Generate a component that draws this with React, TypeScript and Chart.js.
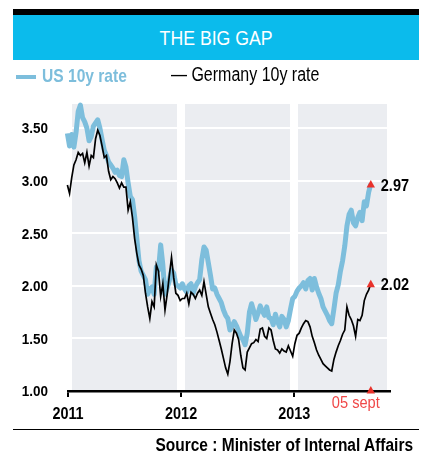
import React, { useEffect, useRef } from "react";
import { Chart, registerables } from "chart.js";

Chart.register(...registerables);

// ---- data (weekly closes, first week 2010-12-30, last 2013-09-05) ----
const FIRST_WEEK = "2010-12-30";
const usRate = [
  3.45, 3.33, 3.44, 3.32, 3.46, 3.66, 3.72, 3.6, 3.56, 3.5,
  3.38, 3.42, 3.52, 3.55, 3.58, 3.5, 3.39, 3.29, 3.24, 3.18,
  3.15, 3.12, 3.08, 3.1, 3.05, 3.04, 3.2, 3.13, 2.98, 2.85,
  2.82, 2.66, 2.45, 2.24, 2.14, 2.1, 2.06, 1.92, 1.97, 1.99,
  1.92, 2.18, 2.15, 2.39, 2.2, 1.92, 1.98, 2.05, 2.15, 2.12,
  2.01, 2.0, 1.98, 2.02, 1.97, 1.94, 2.0, 2.02, 1.93, 1.99,
  2.03, 2.06, 2.25, 2.37, 2.34, 2.22, 2.1, 1.97, 1.98, 1.92,
  1.88, 1.84, 1.77, 1.72, 1.69, 1.58, 1.62, 1.66, 1.62, 1.57,
  1.52, 1.49, 1.44, 1.55, 1.75, 1.83, 1.76, 1.68, 1.74, 1.81,
  1.76, 1.72, 1.8, 1.7, 1.69, 1.63, 1.73, 1.66, 1.61, 1.71,
  1.68, 1.61, 1.67, 1.78, 1.88, 1.9, 1.95, 1.98, 2.0, 2.03,
  1.97, 2.05, 2.07, 1.96, 2.07, 1.99, 1.93, 1.88, 1.8, 1.76,
  1.72, 1.67, 1.64, 1.78, 1.93, 2.01, 2.14, 2.24, 2.38, 2.57,
  2.68, 2.72, 2.6, 2.57, 2.65, 2.7, 2.62, 2.8, 2.76, 2.89,
  2.97,
];
const germanyRate = [
  2.96, 2.88, 3.03, 3.15, 3.2, 3.27, 3.24, 3.26, 3.17, 3.27,
  3.14, 3.24, 3.22, 3.4, 3.48, 3.43, 3.33, 3.22, 3.24, 3.09,
  3.01, 3.04, 3.02, 2.98, 2.93, 2.98, 2.94, 2.94, 2.72, 2.8,
  2.65, 2.45, 2.31, 2.2, 2.16, 2.1, 1.93, 1.8, 1.69, 1.85,
  1.8, 2.2, 2.14, 1.9, 2.02, 1.77, 1.92, 2.1, 2.27, 2.08,
  1.93, 1.91, 1.86, 1.88, 1.88, 1.93, 1.83, 1.94, 1.92, 1.88,
  1.93, 1.96, 1.91, 2.04, 1.92, 1.8, 1.74, 1.68, 1.63, 1.56,
  1.48, 1.4, 1.31, 1.22, 1.16, 1.28, 1.45, 1.58, 1.55, 1.49,
  1.34, 1.22, 1.2, 1.37, 1.41, 1.45, 1.46, 1.49, 1.47, 1.59,
  1.6, 1.52, 1.5, 1.6, 1.58, 1.48, 1.4, 1.39, 1.36, 1.4,
  1.38, 1.37, 1.43, 1.38, 1.33, 1.45, 1.53, 1.55, 1.6, 1.64,
  1.67, 1.66, 1.61, 1.52, 1.46, 1.39, 1.34, 1.3, 1.26, 1.24,
  1.22, 1.2, 1.19, 1.3, 1.37, 1.43, 1.48, 1.54, 1.58, 1.8,
  1.72, 1.68, 1.62, 1.52, 1.68, 1.67, 1.72, 1.86, 1.92, 1.96,
  2.02,
];
const yTicks = [1, 1.5, 2, 2.5, 3, 3.5];
const xTicks = [2011, 2012, 2013];
const Y_MIN = 1;
const Y_MAX = 3.73;
const X_MIN = 2011;
const X_MAX = 2013.82;
const LAST_DATE_LABEL = "05 sept";
const TITLE = "THE BIG GAP";
const SERIES_NAMES = ["US 10y rate", "Germany 10y rate"];
const SOURCE = "Source : Minister of Internal Affairs";

// ---- styles ----
const FONT = "'Liberation Sans', Arial, sans-serif";
const US_COLOR = "#7dbedc";
const DE_COLOR = "#000000";
const BAND_COLOR = "#0bbbec";
const PANEL_COLOR = "#ebedf1";
const RED = "#e8322b";
const RED_TEXT = "#f04848";

function yearFrac(d: Date): number {
  const y = d.getUTCFullYear();
  const s = Date.UTC(y, 0, 1);
  const e = Date.UTC(y + 1, 0, 1);
  return y + (d.getTime() - s) / (e - s);
}

const weekX = usRate.map((_, i) => {
  const d = new Date(FIRST_WEEK + "T00:00:00Z");
  d.setUTCDate(d.getUTCDate() + 7 * i);
  return yearFrac(d);
});

// condensed text helper (no narrow font installed: squeeze horizontally)
function narrowText(
  ctx: CanvasRenderingContext2D,
  text: string,
  x: number,
  y: number,
  font: string,
  color: string,
  align: CanvasTextAlign,
  sx: number
) {
  ctx.save();
  ctx.font = font;
  ctx.fillStyle = color;
  ctx.textAlign = align;
  ctx.textBaseline = "alphabetic";
  ctx.translate(x, y);
  ctx.scale(sx, 1);
  ctx.fillText(text, 0, 0);
  ctx.restore();
}

const panelPlugin = {
  id: "panel",
  beforeDraw(chart: any) {
    const { ctx, chartArea: a } = chart;
    ctx.save();
    ctx.fillStyle = PANEL_COLOR;
    ctx.fillRect(a.left, a.top, a.right - a.left, a.bottom - a.top);
    ctx.restore();
  },
};

const axisLabelPlugin = {
  id: "axisLabels",
  afterDraw(chart: any) {
    const { ctx, chartArea: a } = chart;
    const xs = chart.scales.x;
    const ys = chart.scales.y;
    yTicks.forEach((v) => {
      const py = ys.getPixelForValue(v);
      narrowText(ctx, v.toFixed(2), a.left - 20, py + 5.3, `bold 15.5px ${FONT}`, "#000", "right", 0.87);
    });
    xTicks.forEach((v) => {
      const px = xs.getPixelForValue(v);
      narrowText(ctx, String(v), px, a.bottom + 28.3, `bold 16px ${FONT}`, "#000", "center", 0.9);
    });
  },
};

function tri(ctx: CanvasRenderingContext2D, x: number, y: number) {
  ctx.beginPath();
  ctx.moveTo(x, y - 4);
  ctx.lineTo(x - 4.2, y + 3.5);
  ctx.lineTo(x + 4.2, y + 3.5);
  ctx.closePath();
  ctx.fill();
}

const endPlugin = {
  id: "endMarks",
  afterDatasetsDraw(chart: any) {
    const { ctx, chartArea: a } = chart;
    const xs = chart.scales.x;
    const ys = chart.scales.y;
    const lastX = weekX[weekX.length - 1];
    const px = xs.getPixelForValue(lastX);
    ctx.save();
    [usRate, germanyRate].forEach((arr) => {
      const v = arr[arr.length - 1];
      const py = ys.getPixelForValue(v);
      ctx.fillStyle = RED;
      tri(ctx, px, py);
      narrowText(ctx, v.toFixed(2), px + 10, py + 6.7, `bold 17px ${FONT}`, "#000", "left", 0.855);
    });
    ctx.fillStyle = RED;
    tri(ctx, px, a.bottom - 1);
    narrowText(ctx, LAST_DATE_LABEL, px + 9, a.bottom + 17.3, `16.5px ${FONT}`, RED_TEXT, "right", 0.887);
    ctx.restore();
  },
};

export default function App() {
  const ref = useRef<HTMLCanvasElement | null>(null);

  useEffect(() => {
    if (!ref.current) return;
    const chart = new Chart(ref.current, {
      type: "line",
      data: {
        datasets: [
          {
            label: SERIES_NAMES[0],
            data: usRate.map((v, i) => ({ x: weekX[i], y: v })),
            borderColor: US_COLOR,
            borderWidth: 5,
            pointRadius: 0,
            tension: 0,
            borderJoinStyle: "round",
            clip: false as any,
            order: 2,
          },
          {
            label: SERIES_NAMES[1],
            data: germanyRate.map((v, i) => ({ x: weekX[i], y: v })),
            borderColor: DE_COLOR,
            borderWidth: 1.7,
            pointRadius: 0,
            tension: 0,
            clip: false as any,
            order: 1,
          },
        ],
      },
      options: {
        animation: false,
        responsive: false,
        devicePixelRatio: 1,
        layout: { padding: { left: 0, top: 104, right: 39, bottom: 40 } },
        plugins: { legend: { display: false }, tooltip: { enabled: false } },
        scales: {
          x: {
            type: "linear",
            min: X_MIN,
            max: X_MAX,
            afterBuildTicks: (s: any) => {
              s.ticks = xTicks.map((v) => ({ value: v }));
            },
            afterFit: (s: any) => {
              s.height = 30;
            },
            grid: {
              color: "#ffffff",
              lineWidth: 8,
              drawTicks: true,
              tickLength: 6,
              tickColor: "#000",
              tickWidth: 2,
            },
            border: { display: true, color: "#000", width: 2.5 },
            ticks: { display: false },
          },
          y: {
            type: "linear",
            min: Y_MIN,
            max: Y_MAX,
            afterBuildTicks: (s: any) => {
              s.ticks = yTicks.map((v) => ({ value: v }));
            },
            afterFit: (s: any) => {
              s.width = 68;
            },
            grid: { color: "#ffffff", lineWidth: 2, drawTicks: false },
            border: { display: false },
            ticks: { display: false },
          },
        },
      },
      plugins: [panelPlugin, endPlugin, axisLabelPlugin],
    });
    return () => chart.destroy();
  }, []);

  const abs = (s: React.CSSProperties): React.CSSProperties => ({ position: "absolute", ...s });
  const squeeze = (k: number, origin: string): React.CSSProperties => ({
    display: "inline-block",
    transform: `scaleX(${k})`,
    transformOrigin: origin,
  });

  return (
    <div style={abs({ left: 0, top: 0, width: 426, height: 461, background: "#fff", overflow: "hidden", fontFamily: FONT })}>
      <canvas ref={ref} width={426} height={461} style={abs({ left: 0, top: 0, width: 426, height: 461 })} />
      <div style={abs({ left: 13, top: 9, width: 406, height: 6, background: "#000" })} />
      <div style={abs({ left: 13, top: 15, width: 406, height: 45, background: BAND_COLOR })} />
      <div style={abs({ left: 13, top: 26.6, width: 406, textAlign: "center", color: "#fff", fontSize: 21, lineHeight: "21px", whiteSpace: "nowrap" })}>
        <span style={squeeze(0.842, "center top")}>{TITLE}</span>
      </div>
      <div style={abs({ left: 16, top: 75.3, width: 20, height: 4, background: US_COLOR })} />
      <div style={abs({ left: 42, top: 65.8, color: US_COLOR, fontWeight: "bold", fontSize: 19, lineHeight: "19px", whiteSpace: "nowrap" })}>
        <span style={squeeze(0.82, "left top")}>{SERIES_NAMES[0]}</span>
      </div>
      <div style={abs({ left: 171, top: 65.2, color: "#000", fontSize: 19.5, lineHeight: "19.5px", whiteSpace: "nowrap" })}>
        <span style={squeeze(0.82, "left top")}>{"\u2014 " + SERIES_NAMES[1]}</span>
      </div>
      <div style={abs({ left: 13, top: 429, width: 406, height: 1, background: "#000" })} />
      <div style={abs({ right: 13, top: 436.9, color: "#000", fontWeight: "bold", fontSize: 17.5, lineHeight: "17.5px", whiteSpace: "nowrap", textAlign: "right" })}>
        <span style={squeeze(0.885, "right top")}>{SOURCE}</span>
      </div>
    </div>
  );
}
